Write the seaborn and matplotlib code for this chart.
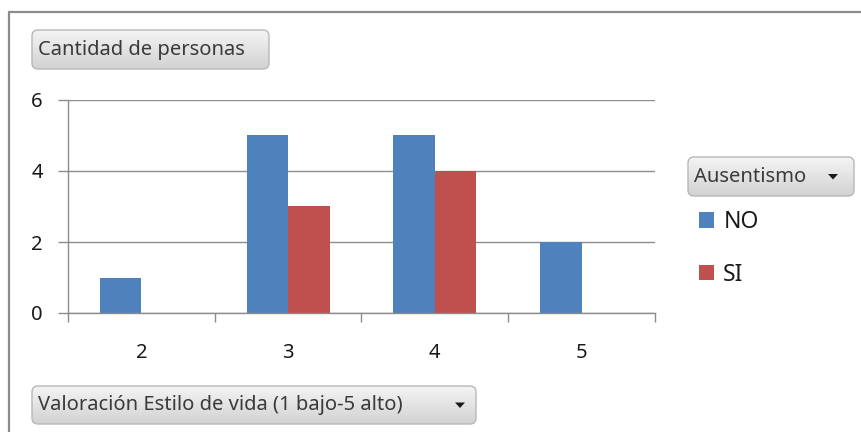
import numpy as np
import pandas as pd
import matplotlib
matplotlib.use("Agg")
import matplotlib.pyplot as plt
import seaborn as sns
from matplotlib.patches import FancyBboxPatch, Polygon, Patch
from matplotlib.colors import LinearSegmentedColormap
from matplotlib.lines import Line2D

# --- datos ---------------------------------------------------------------
categorias = ["2", "3", "4", "5"]
series = ["NO", "SI"]
no_valores = [1, 5, 5, 2]
si_valores = [0, 3, 4, 0]
yticks = [0, 2, 4, 6]

titulo_y = "Cantidad de personas"
titulo_x = "Valoración Estilo de vida (1 bajo-5 alto)"
titulo_leyenda = "Ausentismo"

colores = {"NO": "#4F81BD", "SI": "#C0504D"}

df = pd.DataFrame({
    "Valoración": categorias * 2,
    "Ausentismo": ["NO"] * len(categorias) + ["SI"] * len(categorias),
    "Cantidad": no_valores + si_valores,
})

sns.set_theme(style="white")
plt.rcParams["font.family"] = ["Noto Sans", "DejaVu Sans"]

W, H = 862, 432
fig = plt.figure(figsize=(W / 100, H / 100), dpi=100)
fig.patch.set_facecolor("white")

# capa de fondo en coordenadas de píxel para marco y botones
bg = fig.add_axes([0, 0, 1, 1], zorder=0)
bg.axis("off")

GRIS = "#8c8c8c"

# --- gráfico de barras ----------------------------------------------------
ax = fig.add_axes([68 / W, (H - 313) / H, (655 - 68) / W, (313 - 100) / H], zorder=1)
ax.patch.set_alpha(0)
sns.barplot(data=df, x="Valoración", y="Cantidad", hue="Ausentismo",
            order=categorias, hue_order=series, palette=colores,
            width=0.567, gap=0, linewidth=0, saturation=1,
            legend=False, ax=ax)

ax.set_ylim(0, 6)
ax.set_yticks(yticks)
ax.set_xlabel("")
ax.set_ylabel("")
ax.yaxis.grid(True, color=GRIS, lw=1)
ax.set_axisbelow(True)
for s in ("top", "right"):
    ax.spines[s].set_visible(False)
for s in ("left", "bottom"):
    ax.spines[s].set_color(GRIS)
    ax.spines[s].set_linewidth(1)

ax.tick_params(axis="y", which="major", length=7.2, width=1, color=GRIS,
               labelsize=14.5, labelcolor="#1a1a1a", pad=11, direction="out", left=True)
ax.tick_params(axis="x", which="major", length=0, labelsize=14.5,
               labelcolor="#1a1a1a", pad=21.5)
ax.set_xticks(np.arange(-0.5, len(categorias), 1.0), minor=True)
ax.tick_params(axis="x", which="minor", length=6.5, width=1, color=GRIS,
               direction="out", bottom=True)
ax.set_xlim(-0.5, len(categorias) - 0.5)

# --- leyenda --------------------------------------------------------------
handles = [Patch(facecolor=colores[s], edgecolor="none") for s in series]
fig.legend(handles, series, loc="upper left",
           bbox_to_anchor=(699 / W, 1 - 210 / H), frameon=False,
           fontsize=16.5, handlelength=0.66, handleheight=0.66,
           handletextpad=0.4, labelspacing=1.25, borderpad=0,
           borderaxespad=0, labelcolor="#1a1a1a")

# --- marco ----------------------------------------------------------------
bg.add_line(Line2D([9.5, 9.5], [12, H], color=GRIS, lw=1.6))
bg.add_line(Line2D([9, W], [12, 12], color=GRIS, lw=1.6))

# --- botones de campo -----------------------------------------------------
cmap_btn = LinearSegmentedColormap.from_list("btn", ["#f4f4f4", "#d2d2d2"])


def boton(x0, y0, x1, y1, texto, flecha_x=None):
    caja = FancyBboxPatch((x0, y0), x1 - x0, y1 - y0,
                          boxstyle="round,pad=0,rounding_size=6",
                          facecolor="none", edgecolor="#b8b8b8", lw=1, zorder=3)
    bg.add_patch(caja)
    grad = np.linspace(0, 1, 64).reshape(-1, 1)
    img = bg.imshow(grad, cmap=cmap_btn, extent=(x0, x1, y1, y0),
                    aspect="auto", zorder=2, interpolation="bilinear")
    img.set_clip_path(caja)
    yc = (y0 + y1) / 2
    bg.text(x0 + 6, yc, texto, fontsize=14.5, color="#3a3a3a",
            ha="left", va="center", zorder=4)
    if flecha_x is not None:
        bg.add_patch(Polygon([[flecha_x - 5, yc - 2.5], [flecha_x + 5, yc - 2.5],
                              [flecha_x, yc + 3]], closed=True,
                             facecolor="#1a1a1a", edgecolor="none", zorder=4))


boton(32, 30, 269, 69, titulo_y)
boton(688, 157, 854, 196, titulo_leyenda, flecha_x=833)
boton(32, 386, 476, 424, titulo_x, flecha_x=460)

bg.set_xlim(0, W)
bg.set_ylim(H, 0)

fig.savefig("out.png", dpi=100)
